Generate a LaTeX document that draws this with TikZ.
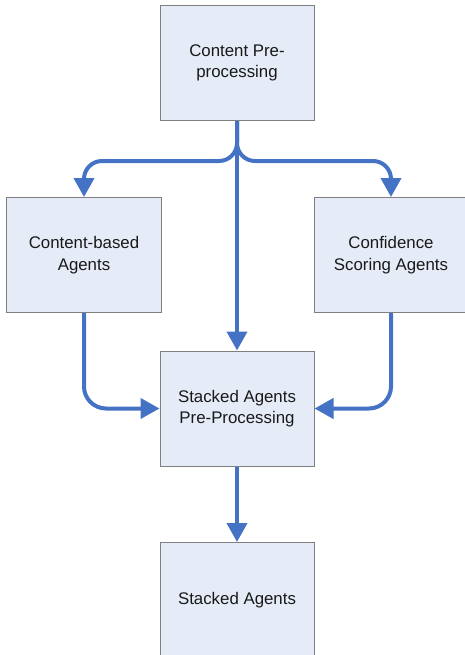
\documentclass[tikz,border=0pt]{standalone}
\usepackage{fontspec}
\setmainfont{Liberation Sans}
\usetikzlibrary{arrows.meta}
\definecolor{boxfill}{HTML}{E6ECF7}
\definecolor{boxline}{HTML}{808080}
\definecolor{conncol}{HTML}{4472C4}
\begin{document}
\begin{tikzpicture}[x=1bp,y=-1bp,
  box/.style={draw=boxline,fill=boxfill,line width=1bp,minimum width=154bp,minimum height=115bp,
    inner sep=0pt,align=center,font=\fontsize{16.9}{21.5}\selectfont,text=black!90},
  conn/.style={draw=conncol,line width=4bp,-{Triangle[width=20bp,length=19bp]}}]
\useasboundingbox (0,0) rectangle (465,655);
\clip (0,0) rectangle (465,655);
\node[box] (pre) at (237,63) {Content Pre-\\processing};
\node[box] (cb) at (84,255) {Content-based\\Agents};
\node[box] (cs) at (391,255) {Confidence\\Scoring Agents};
\node[box] (sp) at (237,408.5) {Stacked Agents\\Pre-Processing};
\node[box] (sa) at (237,600) {Stacked Agents};
\draw[conn] (pre.south) -- (sp.north);
\draw[conn,rounded corners=18bp] (pre.south) -- ([yshift=-40bp]pre.south) -| (cb.north);
\draw[conn,rounded corners=18bp] (pre.south) -- ([yshift=-40bp]pre.south) -| (cs.north);
\draw[conn,rounded corners=22bp] (cb.south) |- (sp.west);
\draw[conn,rounded corners=22bp] (cs.south) |- (sp.east);
\draw[conn] (sp.south) -- (sa.north);
\end{tikzpicture}
\end{document}
